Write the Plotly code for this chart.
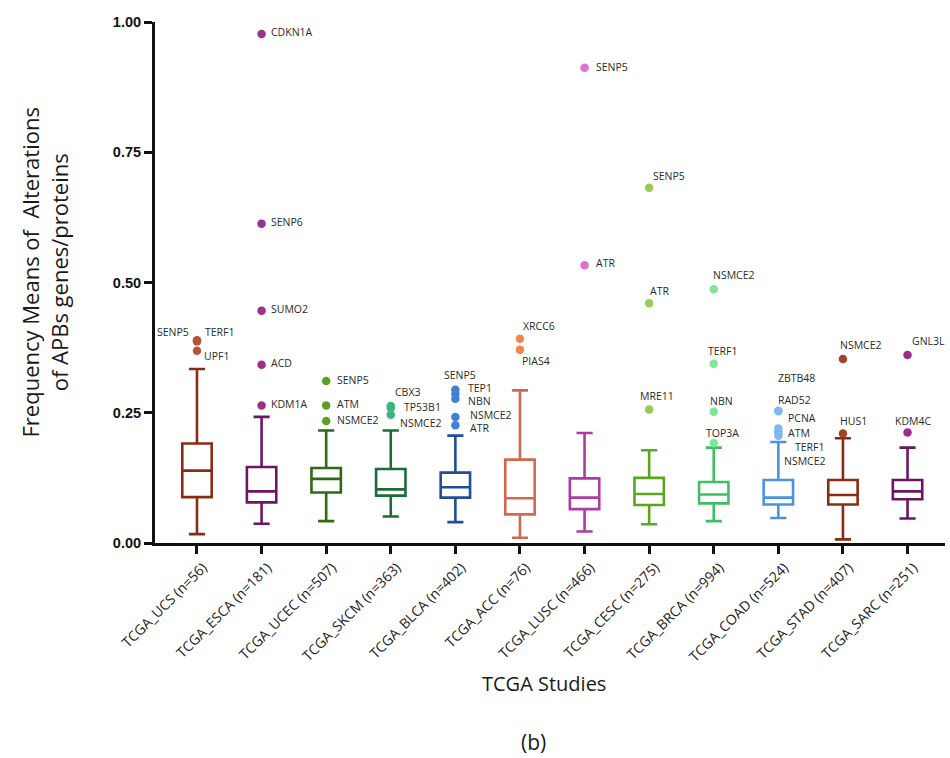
import plotly.graph_objects as go

# Studies (x categories)
studies = [
    "TCGA_UCS (n=56)", "TCGA_ESCA (n=181)", "TCGA_UCEC (n=507)", "TCGA_SKCM (n=363)",
    "TCGA_BLCA (n=402)", "TCGA_ACC (n=76)", "TCGA_LUSC (n=466)", "TCGA_CESC (n=275)",
    "TCGA_BRCA (n=994)", "TCGA_COAD (n=524)", "TCGA_STAD (n=407)", "TCGA_SARC (n=251)",
]

# Box summary statistics per study
lower_whisker = [0.017, 0.037, 0.042, 0.051, 0.040, 0.010, 0.022, 0.036, 0.042, 0.048, 0.007, 0.047]
q1            = [0.088, 0.078, 0.097, 0.091, 0.087, 0.055, 0.065, 0.073, 0.076, 0.074, 0.074, 0.084]
median        = [0.139, 0.099, 0.123, 0.103, 0.107, 0.086, 0.087, 0.094, 0.093, 0.087, 0.092, 0.099]
q3            = [0.191, 0.146, 0.144, 0.142, 0.135, 0.160, 0.124, 0.125, 0.117, 0.121, 0.121, 0.121]
upper_whisker = [0.334, 0.242, 0.216, 0.216, 0.206, 0.293, 0.211, 0.178, 0.183, 0.194, 0.201, 0.183]

# Outlying genes/proteins: study index, gene name, frequency mean
outlier_study = [0, 0, 0,
                 1, 1, 1, 1, 1,
                 2, 2, 2,
                 3, 3, 3,
                 4, 4, 4, 4, 4,
                 5, 5,
                 6, 6,
                 7, 7, 7,
                 8, 8, 8, 8,
                 9, 9, 9, 9, 9, 9,
                 10, 10,
                 11, 11]
outlier_gene = ["SENP5", "TERF1", "UPF1",
                "CDKN1A", "SENP6", "SUMO2", "ACD", "KDM1A",
                "SENP5", "ATM", "NSMCE2",
                "CBX3", "TP53B1", "NSMCE2",
                "SENP5", "TEP1", "NBN", "NSMCE2", "ATR",
                "XRCC6", "PIAS4",
                "SENP5", "ATR",
                "SENP5", "ATR", "MRE11",
                "NSMCE2", "TERF1", "NBN", "TOP3A",
                "ZBTB48", "RAD52", "PCNA", "ATM", "TERF1", "NSMCE2",
                "NSMCE2", "HUS1",
                "GNL3L", "KDM4C"]
outlier_value = [0.389, 0.387, 0.369,
                 0.977, 0.613, 0.446, 0.342, 0.264,
                 0.311, 0.264, 0.234,
                 0.263, 0.259, 0.246,
                 0.294, 0.286, 0.277, 0.242, 0.226,
                 0.392, 0.371,
                 0.912, 0.533,
                 0.682, 0.460, 0.256,
                 0.487, 0.344, 0.252, 0.192,
                 0.254, 0.253, 0.220, 0.215, 0.210, 0.206,
                 0.353, 0.210,
                 0.361, 0.212]

# Styling
box_colors = ["#8a2c14", "#6c1664", "#2f6a14", "#1d6a3a", "#1f4f95", "#d4674f",
              "#ab3ca7", "#5ca61c", "#3fbf63", "#4b93e0", "#8a2c12", "#6a1662"]
dot_colors = ["#b5523c", "#9c3190", "#5c9f22", "#3bb878", "#3e80d6", "#f3854f",
              "#e070d6", "#98cc52", "#7de79b", "#80b8f0", "#a2422a", "#9a2c8a"]

# Label placement relative to each dot: (dx px, dy px downward, anchor)
label_offsets = [(-6, -8, "right"), (6, -9, "left"), (5, 5, "left"),
                 (7, -2, "left"), (7, -2, "left"), (7, -2, "left"), (7, -2, "left"), (7, -1, "left"),
                 (9, -1, "left"), (9, -1, "left"), (9, -1, "left"),
                 (2, -14, "left"), (11, -1, "left"), (7, 8, "left"),
                 (5, -15, "center"), (11, -6, "left"), (11, 2, "left"), (13, -2, "left"), (13, 3, "left"),
                 (1, -13, "left"), (0, 11, "left"),
                 (9, -1, "left"), (9, -2, "left"),
                 (2, -12, "left"), (-1, -12, "left"), (-11, -14, "left"),
                 (-3, -14, "left"), (-8, -13, "left"), (-6, -11, "left"), (-10, -10, "left"),
                 (-2, -33, "left"), (-2, -11, "left"), (8, -10, "left"), (8, 2, "left"), (15, 13, "left"), (4, 25, "left"),
                 (-5, -14, "left"), (-5, -13, "left"),
                 (2, -14, "left"), (-15, -12, "left")]

FONT = "Open Sans"
fig = go.Figure()

for i, s in enumerate(studies):
    fig.add_trace(go.Box(
        x=[s], q1=[q1[i]], median=[median[i]], q3=[q3[i]],
        lowerfence=[lower_whisker[i]], upperfence=[upper_whisker[i]],
        boxpoints=False, fillcolor="white",
        line=dict(color=box_colors[i], width=2.6),
        whiskerwidth=0.55, showlegend=False, hoverinfo="skip",
    ))

for i, s in enumerate(studies):
    idx = [k for k, st in enumerate(outlier_study) if st == i]
    fig.add_trace(go.Scatter(
        x=[s] * len(idx), y=[outlier_value[k] for k in idx],
        mode="markers", marker=dict(color=dot_colors[i], size=8.5, line=dict(width=0)),
        showlegend=False, hoverinfo="skip",
    ))

annotations = []
for k, g in enumerate(outlier_gene):
    dx, dy, anchor = label_offsets[k]
    annotations.append(dict(
        x=studies[outlier_study[k]], y=outlier_value[k], xref="x", yref="y",
        text=g, showarrow=False, xanchor=anchor, yanchor="middle",
        xshift=dx, yshift=-dy, font=dict(family=FONT, size=10.5, color="#2a2a2a"),
    ))

annotations += [
    dict(text="Frequency Means of  Alterations<br>of APBs genes/proteins",
         xref="paper", yref="paper", x=-0.14, y=0.52, textangle=-90,
         showarrow=False, xanchor="center", yanchor="middle",
         font=dict(family=FONT, size=22, color="#1a1a1a")),
    dict(text="TCGA Studies", xref="paper", yref="paper", x=0.4924, y=-0.2706,
         showarrow=False, xanchor="center", yanchor="middle",
         font=dict(family=FONT, size=20, color="#1a1a1a")),
    dict(text="(b)", xref="paper", yref="paper", x=0.479, y=-0.382,
         showarrow=False, xanchor="center", yanchor="middle",
         font=dict(family=FONT, size=21, color="#1a1a1a")),
]

fig.update_layout(
    width=950, height=758,
    margin=dict(l=155, r=5, t=22, b=215),
    plot_bgcolor="white", paper_bgcolor="white",
    boxgap=0.35, boxmode="overlay",
    annotations=annotations,
    xaxis=dict(
        type="category", categoryorder="array", categoryarray=studies,
        range=[-0.65, 11.58], showline=True, linewidth=3, linecolor="#111",
        ticks="outside", ticklen=8, tickwidth=3, tickcolor="#111",
        tickangle=-45, tickfont=dict(family=FONT, size=14, color="#222"),
        ticklabelshift=6,
        showgrid=False, zeroline=False,
    ),
    yaxis=dict(
        range=[0, 1.0], tickvals=[0, 0.25, 0.5, 0.75, 1.0],
        ticktext=["0.00", "0.25", "0.50", "0.75", "1.00"],
        showline=True, linewidth=3, linecolor="#111",
        ticks="outside", ticklen=8, tickwidth=3, tickcolor="#111",
        tickfont=dict(family="Liberation Sans", size=14.5, color="#111", weight="bold"),
        showgrid=False, zeroline=False,
    ),
)

fig.write_html("out.html")
